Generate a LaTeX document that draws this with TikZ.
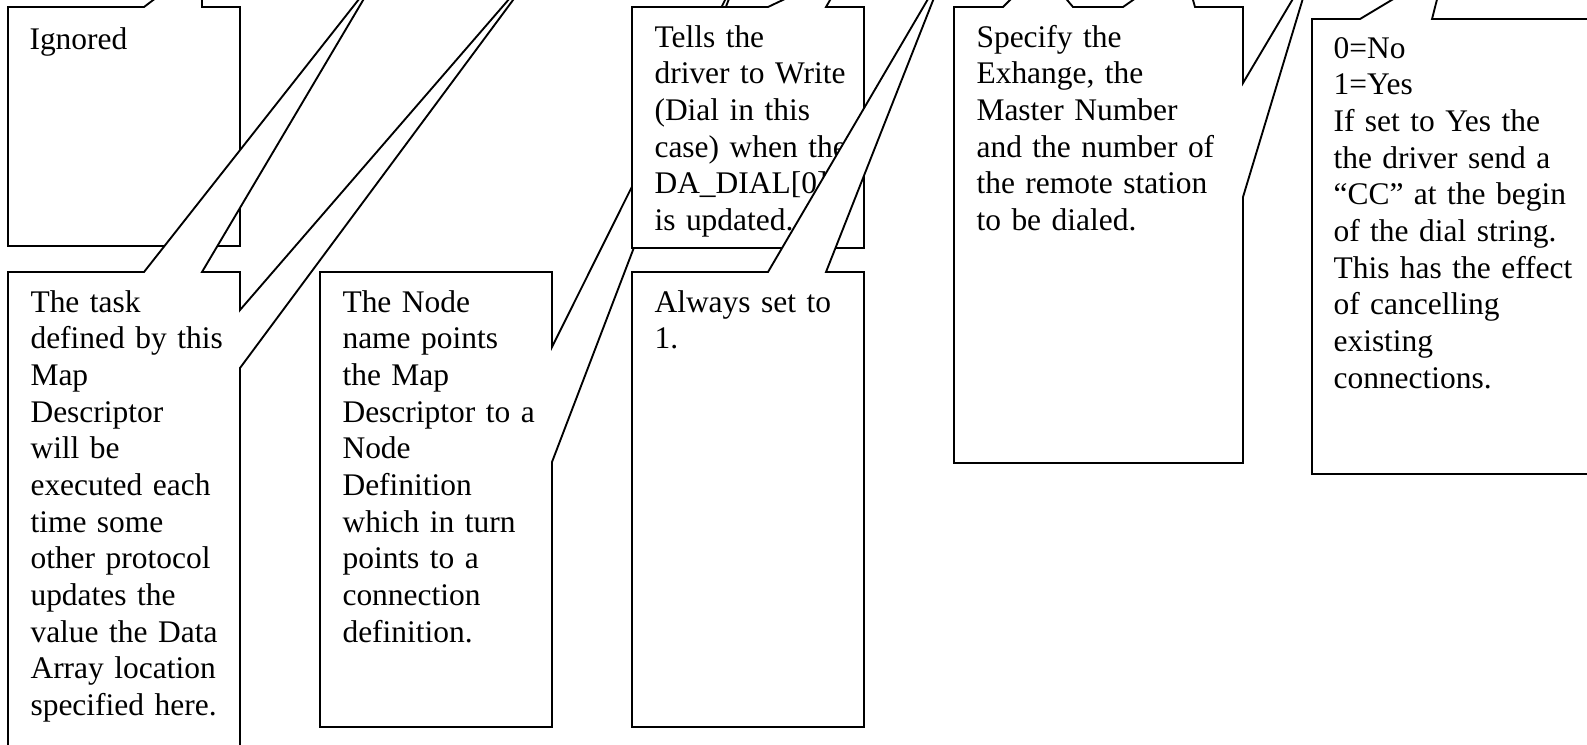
\documentclass[tikz,border=0pt]{standalone}
\usepackage{fontspec}
\setmainfont{Liberation Serif}

\begin{document}
\begin{tikzpicture}[x=0.375pt,y=-0.375pt,
        callout/.style={draw=black,fill=white,line width=0.7pt,line join=miter},
        note/.style={anchor=base west,inner sep=0pt,text width=95pt,align=left,font=\fontsize{11.8}{13.76}\selectfont}]
        \useasboundingbox (0,0) rectangle (1587,744);
        \clip (0,0) rectangle (1587,744);
        \coordinate (tipIgnored) at (202,-37);
        \coordinate (tipTaskA) at (378,-25);
        \coordinate (tipTaskB) at (542,-39);
        \coordinate (tipNode) at (740,-30);
        \coordinate (tipTells) at (848,-31);
        \coordinate (tipAlways) at (945,-30);
        \coordinate (tipSpecA) at (1041,-31);
        \coordinate (tipSpecB) at (1183,-35);
        \coordinate (tipSpecC) at (1313,-35);
        \coordinate (tipCancel) at (1445,-32);

        \draw[callout] (8,7) -- (144,7) -- (tipIgnored) -- (202,7) -- (240,7) -- (240,246) -- (8,246) -- cycle;
        \node[note] (ignored) at (29,49) {Ignored};

        \draw[callout] (8,272) -- (144,272) -- (tipTaskA) -- (202,272) -- (240,272) -- (240,310) -- (tipTaskB) -- (240,368) -- (240,770) -- (8,770) -- cycle;
        \node[note] (task) at (30,312) {The task\\defined by this\\Map\\Descriptor\\will be\\executed each\\time some\\other protocol\\updates the\\value the Data\\Array location\\specified here.};

        \draw[callout] (320,272) -- (552,272) -- (552,347) -- (tipNode) -- (552,462) -- (552,727) -- (320,727) -- cycle;
        \node[note] (nodename) at (342,312) {The Node\\name points\\the Map\\Descriptor to a\\Node\\Definition\\which in turn\\points to a\\connection\\definition.};

        \draw[callout] (632,7) -- (768,7) -- (tipTells) -- (826,7) -- (864,7) -- (864,248) -- (632,248) -- cycle;
        \node[note] (tells) at (654,47) {Tells the\\driver to Write\\(Dial in this\\case) when the\\DA\_DIAL[0]\\is updated.};

        \draw[callout] (632,272) -- (768,272) -- (tipAlways) -- (826,272) -- (864,272) -- (864,727) -- (632,727) -- cycle;
        \node[note] (always) at (654,312) {Always set to\\1.};

        \draw[callout] (954,7) -- (1003,7) -- (tipSpecA) -- (1073,7) -- (1123,7) -- (tipSpecB) -- (1195,7) -- (1243,7) -- (1243,83) -- (tipSpecC) -- (1243,197) -- (1243,463) -- (954,463) -- cycle;
        \node[note] (exchange) at (976,47) {Specify the\\Exhange, the\\Master Number\\and the number of\\the remote station\\to be dialed.};

        \draw[callout] (1312,19) -- (1360,19) -- (tipCancel) -- (1432,19) -- (1620,19) -- (1620,474) -- (1312,474) -- cycle;
        \node[note] (cancel) at (1333,58) {0=No\\1=Yes\\If set to Yes the\\the driver send a\\“CC” at the begin\\of the dial string.\\This has the effect\\of cancelling\\existing\\connections.};
    \end{tikzpicture}
\end{document}
